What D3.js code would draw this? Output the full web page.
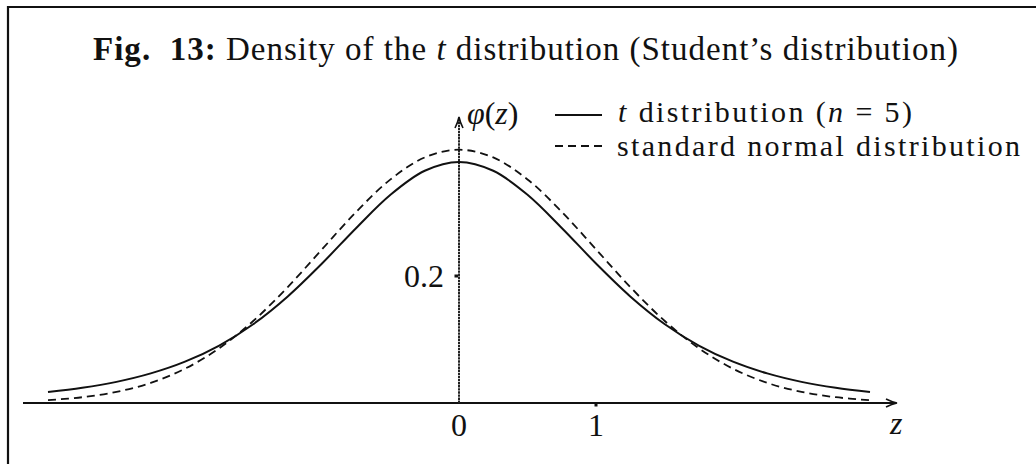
<!DOCTYPE html>
<html>
<head>
<meta charset="utf-8">
<script src="https://cdn.jsdelivr.net/npm/d3@7"></script>
<style>
  html, body { margin: 0; padding: 0; background: #fff; }
  svg { display: block; }
  text { font-family: "Liberation Serif", "Times New Roman", serif; fill: #111; }
</style>
</head>
<body>
<svg id="chart" width="1036" height="464"></svg>
<script>
// Sample points on the z axis
const zValues = [-3, -2.75, -2.5, -2.25, -2, -1.75, -1.5, -1.25, -1, -0.75, -0.5, -0.25,
                 0, 0.25, 0.5, 0.75, 1, 1.25, 1.5, 1.75, 2, 2.25, 2.5, 2.75, 3];

// Density of the t distribution with n = 5 at each z
const tDensity = [0.0173, 0.0239, 0.0333, 0.0466, 0.0651, 0.0905, 0.1245, 0.1679, 0.2197, 0.2757, 0.3279, 0.3657,
                  0.3796, 0.3657, 0.3279, 0.2757, 0.2197, 0.1679, 0.1245, 0.0905, 0.0651, 0.0466, 0.0333, 0.0239, 0.0173];

// Density of the standard normal distribution at each z
const normalDensity = [0.0044, 0.0091, 0.0175, 0.0317, 0.0540, 0.0863, 0.1295, 0.1826, 0.2420, 0.3011, 0.3521, 0.3867,
                       0.3989, 0.3867, 0.3521, 0.3011, 0.2420, 0.1826, 0.1295, 0.0863, 0.0540, 0.0317, 0.0175, 0.0091, 0.0044];

const xTicks = [0, 1];
const xTickLabels = ["0", "1"];
const yTicks = [0.2];
const yTickLabels = ["0.2"];

const svg = d3.select("#chart");
const ink = "#111";

// Frame
svg.append("path")
  .attr("d", "M8,470 L8,7 L1040,7")
  .attr("fill", "none").attr("stroke", ink).attr("stroke-width", 2.2);

// Scales
const x = d3.scaleLinear().domain([0, 1]).range([459, 596]);
const y = d3.scaleLinear().domain([0, 0.2]).range([403, 276]);

// Axes
const xAxisStart = 23, xAxisEnd = 897;
const yAxisTop = 117;

svg.append("line")
  .attr("x1", xAxisStart).attr("x2", xAxisEnd - 1)
  .attr("y1", y(0)).attr("y2", y(0))
  .attr("stroke", ink).attr("stroke-width", 1.8);

svg.append("line")
  .attr("x1", x(0)).attr("x2", x(0))
  .attr("y1", y(0)).attr("y2", yAxisTop + 1)
  .attr("stroke", "#222").attr("stroke-width", 2)
  .attr("stroke-dasharray", "2.4,0.7");

// Arrow heads
svg.append("path")
  .attr("d", `M${xAxisEnd - 11},${y(0) - 4} Q${xAxisEnd - 5},${y(0) - 1} ${xAxisEnd},${y(0)} Q${xAxisEnd - 5},${y(0) + 1} ${xAxisEnd - 11},${y(0) + 4}`)
  .attr("fill", "none").attr("stroke", ink).attr("stroke-width", 1.6);
svg.append("path")
  .attr("d", `M${x(0) - 4},${yAxisTop + 11} Q${x(0) - 1},${yAxisTop + 5} ${x(0)},${yAxisTop} Q${x(0) + 1},${yAxisTop + 5} ${x(0) + 4},${yAxisTop + 11}`)
  .attr("fill", "none").attr("stroke", ink).attr("stroke-width", 1.6);

// Tick marks (small squares)
svg.selectAll(".xtick").data(xTicks.filter(d => d !== 0)).enter().append("rect")
  .attr("x", d => x(d) - 1.5).attr("y", y(0)).attr("width", 3).attr("height", 3.5).attr("fill", ink);
svg.selectAll(".ytick").data(yTicks).enter().append("rect")
  .attr("x", x(0) - 4.5).attr("y", d => y(d) - 1.5).attr("width", 3.5).attr("height", 3).attr("fill", ink);

// Tick labels
svg.selectAll(".xlabel").data(xTicks).enter().append("text")
  .attr("x", d => x(d)).attr("y", 436)
  .attr("text-anchor", "middle").attr("font-size", 32)
  .text((d, i) => xTickLabels[i]);
svg.selectAll(".ylabel").data(yTicks).enter().append("text")
  .attr("x", 444).attr("y", d => y(d) + 11)
  .attr("text-anchor", "end").attr("font-size", 32)
  .text((d, i) => yTickLabels[i]);

// Axis titles
svg.append("text").attr("x", 890).attr("y", 434)
  .attr("font-size", 32).attr("font-style", "italic").text("z");
const phi = svg.append("text").attr("x", 467).attr("y", 124).attr("font-size", 32);
phi.append("tspan").attr("font-style", "italic").text("\u03C6");
phi.append("tspan").text("(");
phi.append("tspan").attr("font-style", "italic").text("z");
phi.append("tspan").text(")");

// Curves
const line = d3.line()
  .x((d, i) => x(zValues[i]))
  .y(d => y(d))
  .curve(d3.curveCatmullRom.alpha(0.5));

svg.append("path").datum(normalDensity)
  .attr("d", line)
  .attr("fill", "none").attr("stroke", ink).attr("stroke-width", 1.8)
  .attr("stroke-dasharray", "8,5");

svg.append("path").datum(tDensity)
  .attr("d", line)
  .attr("fill", "none").attr("stroke", ink).attr("stroke-width", 2);

// Title
const title = svg.append("text").attr("x", 93).attr("y", 60).attr("font-size", 33)
  .attr("textLength", 865).attr("lengthAdjust", "spacing");
title.append("tspan").attr("font-weight", "bold").text("Fig.\u00A0 13:");
title.append("tspan").text(" Density of the ");
title.append("tspan").attr("font-style", "italic").text("t");
title.append("tspan").text(" distribution (Student\u2019s distribution)");

// Legend
svg.append("line").attr("x1", 555).attr("x2", 602).attr("y1", 115).attr("y2", 115)
  .attr("stroke", ink).attr("stroke-width", 2);
svg.append("line").attr("x1", 555).attr("x2", 603).attr("y1", 146).attr("y2", 146)
  .attr("stroke", ink).attr("stroke-width", 1.8).attr("stroke-dasharray", "8,5");

const leg1 = svg.append("text").attr("x", 618).attr("y", 122).attr("font-size", 30)
  .attr("textLength", 294).attr("lengthAdjust", "spacing");
leg1.append("tspan").attr("font-style", "italic").text("t");
leg1.append("tspan").text(" distribution (");
leg1.append("tspan").attr("font-style", "italic").text("n");
leg1.append("tspan").text(" = 5)");

svg.append("text").attr("x", 617).attr("y", 156).attr("font-size", 30)
  .attr("textLength", 403).attr("lengthAdjust", "spacing")
  .text("standard normal distribution");
</script>
</body>
</html>
